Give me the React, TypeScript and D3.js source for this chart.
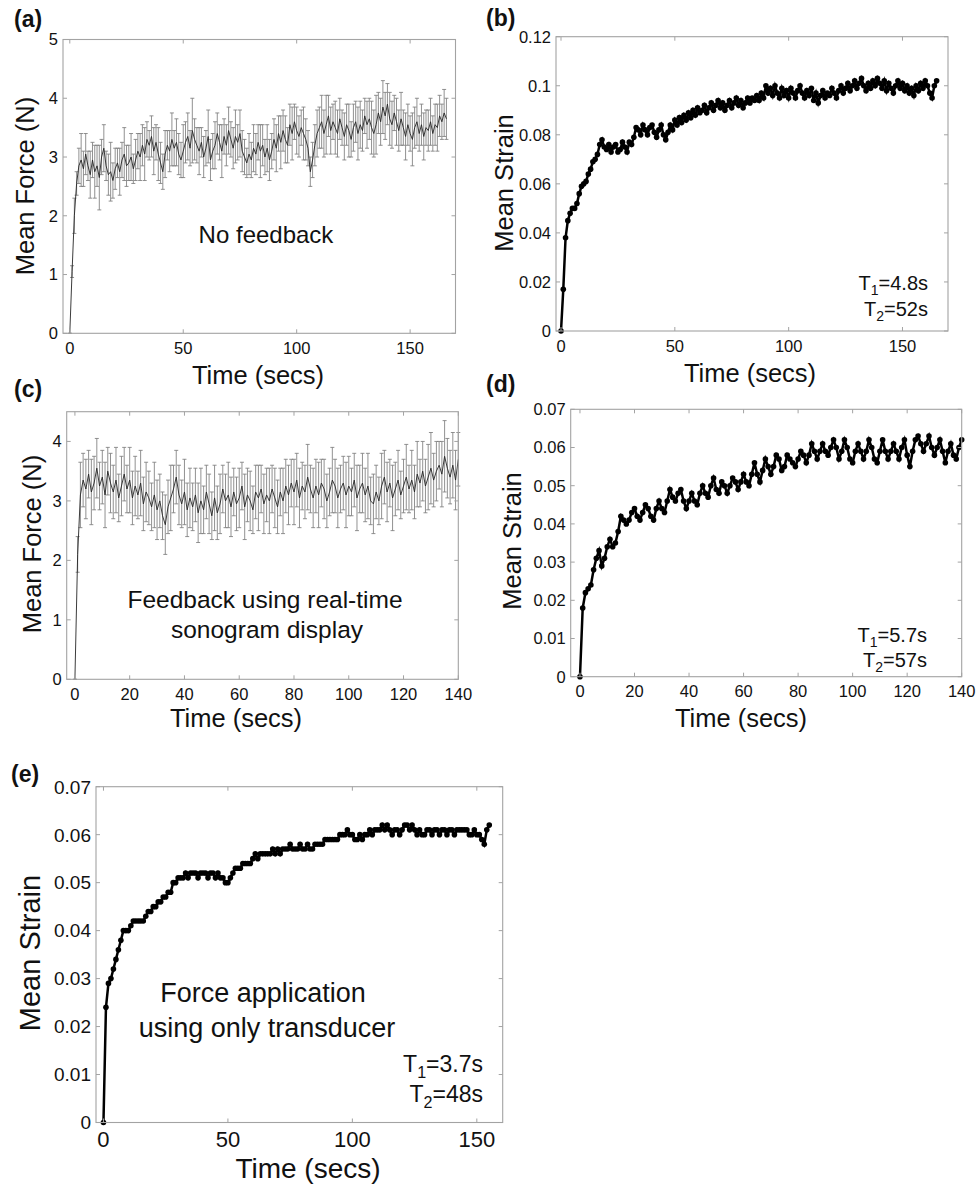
import React from "react";
import * as d3 from "d3";

const FONT = "'Liberation Sans', Arial, Helvetica, sans-serif";

// ---------- DATA ----------
// (a) No feedback: mean force (N) and error, sampled every second
const A_DT = 1;
const aForce = [
  0.00,1.05,2.00,2.55,2.85,2.95,2.80,3.05,2.85,2.70,
  2.95,2.75,2.85,2.65,3.00,3.15,2.85,2.70,2.75,2.60,
  2.80,2.90,2.75,2.95,3.05,2.85,2.90,3.00,2.80,2.95,
  3.10,3.00,3.20,3.05,3.30,3.20,3.35,3.10,3.25,3.05,
  2.90,2.75,3.05,3.20,3.10,3.30,3.15,3.25,3.05,2.95,
  3.10,3.25,3.35,3.15,3.45,3.30,3.20,3.10,3.25,3.00,
  3.15,3.35,2.95,3.10,3.20,3.40,3.25,3.10,3.35,3.20,
  3.45,3.30,3.15,3.35,3.25,3.40,3.10,3.00,2.90,3.05,
  2.95,3.15,3.05,3.25,3.10,3.20,3.00,3.15,2.95,3.10,
  3.30,3.15,3.40,3.25,3.45,3.30,3.20,3.55,3.40,3.60,
  3.45,3.35,3.50,3.40,3.30,3.15,2.75,2.95,3.20,3.40,
  3.50,3.60,3.40,3.55,3.70,3.45,3.60,3.50,3.40,3.65,
  3.50,3.35,3.55,3.45,3.30,3.50,3.60,3.40,3.55,3.45,
  3.70,3.55,3.65,3.50,3.40,3.55,3.75,3.60,3.85,3.70,
  3.90,3.65,3.55,3.75,3.60,3.45,3.65,3.50,3.35,3.55,
  3.40,3.30,3.50,3.60,3.40,3.55,3.35,3.50,3.45,3.60,
  3.40,3.55,3.50,3.70,3.60,3.75,3.65,
];
const aErr = [
  0.00,0.10,0.30,0.20,0.30,0.45,0.30,0.35,0.25,0.40,
  0.30,0.45,0.35,0.55,0.30,0.40,0.25,0.35,0.50,0.30,
  0.35,0.25,0.40,0.30,0.45,0.35,0.30,0.40,0.25,0.35,
  0.30,0.40,0.35,0.45,0.30,0.25,0.35,0.40,0.30,0.45,
  0.35,0.30,0.40,0.25,0.35,0.45,0.30,0.40,0.35,0.30,
  0.45,0.35,0.40,0.30,0.55,0.35,0.30,0.40,0.25,0.35,
  0.30,0.45,0.35,0.30,0.40,0.35,0.30,0.45,0.30,0.35,
  0.40,0.30,0.35,0.45,0.30,0.40,0.35,0.30,0.25,0.35,
  0.30,0.40,0.35,0.30,0.45,0.35,0.30,0.40,0.35,0.30,
  0.35,0.40,0.30,0.45,0.35,0.40,0.30,0.35,0.45,0.30,
  0.40,0.35,0.30,0.45,0.35,0.30,0.25,0.30,0.35,0.40,
  0.35,0.45,0.40,0.50,0.35,0.40,0.30,0.45,0.40,0.35,
  0.30,0.40,0.35,0.45,0.30,0.40,0.35,0.45,0.40,0.35,
  0.30,0.40,0.35,0.45,0.40,0.50,0.35,0.40,0.45,0.40,
  0.35,0.45,0.40,0.30,0.40,0.35,0.45,0.30,0.40,0.35,
  0.30,0.45,0.35,0.40,0.30,0.35,0.40,0.30,0.35,0.40,
  0.30,0.35,0.40,0.35,0.30,0.40,0.35,
];

// (b) No feedback: mean strain
const B_DT = 1;
const bStrain = [
  0.000,0.017,0.038,0.045,0.048,0.050,0.050,0.052,0.056,0.059,
  0.060,0.061,0.064,0.066,0.069,0.070,0.072,0.076,0.078,0.075,
  0.074,0.076,0.073,0.075,0.076,0.073,0.074,0.077,0.075,0.073,
  0.077,0.076,0.079,0.083,0.082,0.080,0.084,0.082,0.080,0.083,
  0.084,0.081,0.079,0.082,0.084,0.080,0.078,0.081,0.084,0.082,
  0.086,0.084,0.087,0.085,0.088,0.086,0.089,0.087,0.090,0.088,
  0.091,0.089,0.090,0.092,0.089,0.091,0.093,0.090,0.092,0.094,
  0.091,0.093,0.090,0.092,0.094,0.091,0.093,0.095,0.092,0.094,
  0.091,0.093,0.095,0.093,0.095,0.094,0.096,0.094,0.097,0.095,
  0.100,0.097,0.099,0.096,0.100,0.097,0.095,0.099,0.096,0.098,
  0.095,0.099,0.097,0.095,0.098,0.100,0.097,0.095,0.098,0.096,
  0.099,0.094,0.097,0.093,0.096,0.098,0.095,0.097,0.096,0.099,
  0.097,0.095,0.098,0.100,0.097,0.099,0.101,0.098,0.100,0.102,
  0.099,0.101,0.103,0.100,0.098,0.101,0.099,0.102,0.100,0.103,
  0.101,0.099,0.102,0.098,0.101,0.099,0.097,0.100,0.102,0.099,
  0.101,0.098,0.100,0.097,0.099,0.096,0.100,0.098,0.101,0.099,
  0.102,0.100,0.097,0.095,0.100,0.102,
];

// (c) Feedback using real-time sonogram display: mean force (N) and error
const C_DT = 1;
const cForce = [
  0.00,2.10,3.10,3.35,3.20,3.45,3.15,3.30,3.55,3.25,
  3.40,3.10,3.50,3.30,3.15,3.35,3.05,3.25,3.45,3.20,
  3.35,3.05,3.25,3.10,3.30,2.95,3.15,3.05,2.90,3.10,
  2.85,3.00,2.75,2.60,2.90,3.05,3.20,3.40,3.10,2.95,
  3.15,2.85,3.05,2.90,3.10,2.80,3.00,2.85,3.15,2.95,
  2.75,3.05,2.80,2.95,3.20,3.00,3.10,2.90,3.15,2.95,
  3.05,3.25,2.90,3.10,3.00,2.85,3.15,3.05,3.20,2.95,
  3.10,3.00,3.20,3.05,2.90,3.15,3.00,3.25,3.10,3.30,
  3.15,3.35,3.05,3.25,3.15,3.40,3.20,3.05,3.25,3.10,
  3.30,3.20,3.00,3.15,3.35,3.25,3.05,3.20,3.30,3.10,
  3.25,3.15,3.35,3.05,3.20,3.30,3.10,3.25,3.00,2.95,
  3.15,3.00,3.25,3.40,3.15,3.30,3.05,3.20,3.35,3.10,
  3.25,3.40,3.20,3.35,3.15,3.45,3.30,3.50,3.25,3.40,
  3.55,3.35,3.50,3.60,3.45,3.75,3.55,3.40,3.60,3.35,
  3.70,
];
const cErr = [
  0.00,0.30,0.55,0.45,0.50,0.40,0.55,0.45,0.50,0.40,
  0.45,0.55,0.40,0.50,0.45,0.55,0.40,0.50,0.45,0.40,
  0.55,0.45,0.50,0.40,0.55,0.45,0.50,0.45,0.40,0.55,
  0.50,0.45,0.40,0.50,0.45,0.55,0.40,0.45,0.50,0.40,
  0.55,0.45,0.50,0.40,0.45,0.50,0.55,0.40,0.45,0.50,
  0.40,0.55,0.45,0.50,0.40,0.45,0.55,0.50,0.40,0.45,
  0.50,0.40,0.55,0.45,0.50,0.40,0.45,0.55,0.40,0.50,
  0.45,0.55,0.40,0.50,0.45,0.40,0.55,0.45,0.50,0.40,
  0.55,0.45,0.50,0.40,0.45,0.55,0.40,0.50,0.45,0.55,
  0.40,0.50,0.45,0.40,0.55,0.45,0.50,0.40,0.45,0.55,
  0.50,0.40,0.45,0.55,0.40,0.50,0.45,0.55,0.40,0.50,
  0.45,0.40,0.55,0.45,0.50,0.40,0.55,0.45,0.50,0.40,
  0.45,0.55,0.40,0.50,0.45,0.55,0.40,0.50,0.45,0.55,
  0.60,0.45,0.50,0.40,0.55,0.60,0.50,0.45,0.55,0.50,
  0.45,
];

// (d) Feedback: mean strain
const D_DT = 1;
const dStrain = [
  0.000,0.018,0.022,0.023,0.024,0.028,0.031,0.033,0.029,0.031,
  0.034,0.036,0.034,0.035,0.038,0.042,0.041,0.040,0.041,0.043,
  0.044,0.042,0.041,0.043,0.045,0.044,0.042,0.041,0.044,0.046,
  0.044,0.043,0.046,0.049,0.047,0.046,0.048,0.049,0.046,0.044,
  0.046,0.048,0.046,0.045,0.048,0.050,0.048,0.047,0.050,0.052,
  0.049,0.048,0.051,0.050,0.048,0.050,0.052,0.051,0.049,0.051,
  0.053,0.051,0.050,0.053,0.056,0.053,0.051,0.054,0.057,0.055,
  0.053,0.055,0.058,0.057,0.054,0.055,0.058,0.057,0.056,0.055,
  0.057,0.059,0.058,0.056,0.058,0.061,0.059,0.057,0.059,0.061,
  0.059,0.058,0.060,0.062,0.060,0.057,0.059,0.062,0.060,0.057,
  0.056,0.059,0.061,0.059,0.057,0.059,0.062,0.060,0.057,0.056,
  0.059,0.062,0.059,0.057,0.059,0.061,0.059,0.057,0.060,0.062,
  0.058,0.055,0.059,0.062,0.063,0.061,0.059,0.061,0.063,0.060,
  0.058,0.060,0.062,0.059,0.056,0.059,0.061,0.058,0.057,0.060,
  0.062,
];

// (e) Force application using only transducer: mean strain
const E_DT = 1;
const eStrain = [
  0.000,0.024,0.029,0.030,0.032,0.034,0.036,0.038,0.040,0.040,
  0.040,0.041,0.042,0.042,0.042,0.042,0.042,0.043,0.044,0.044,
  0.045,0.045,0.046,0.046,0.047,0.047,0.048,0.048,0.050,0.050,
  0.051,0.051,0.051,0.052,0.051,0.052,0.052,0.052,0.051,0.052,
  0.052,0.052,0.051,0.052,0.052,0.051,0.052,0.051,0.051,0.050,
  0.050,0.051,0.052,0.053,0.053,0.053,0.054,0.054,0.054,0.054,
  0.055,0.056,0.055,0.056,0.056,0.056,0.056,0.056,0.057,0.056,
  0.057,0.056,0.057,0.057,0.057,0.058,0.057,0.057,0.057,0.058,
  0.057,0.057,0.058,0.057,0.057,0.058,0.058,0.058,0.058,0.059,
  0.059,0.059,0.059,0.059,0.059,0.060,0.060,0.060,0.061,0.060,
  0.060,0.059,0.059,0.060,0.059,0.060,0.060,0.061,0.060,0.061,
  0.061,0.061,0.062,0.061,0.062,0.061,0.060,0.061,0.061,0.060,
  0.061,0.062,0.062,0.061,0.062,0.061,0.060,0.061,0.060,0.060,
  0.061,0.061,0.060,0.061,0.061,0.060,0.061,0.061,0.060,0.061,
  0.061,0.060,0.061,0.061,0.061,0.061,0.061,0.060,0.060,0.061,
  0.060,0.060,0.059,0.058,0.061,0.062,
];

// Tick values
const ticksX170 = [0, 50, 100, 150];
const ticksX140 = [0, 20, 40, 60, 80, 100, 120, 140];
const ticksForceA = [0, 1, 2, 3, 4, 5];
const ticksForceC = [0, 1, 2, 3, 4];
const ticksStrainB = [0, 0.02, 0.04, 0.06, 0.08, 0.1, 0.12];
const ticksStrain07 = [0, 0.01, 0.02, 0.03, 0.04, 0.05, 0.06, 0.07];

// ---------- LAYOUT ----------
type Spec = {
  box: [number, number, number, number];
  xDomain: [number, number];
  yDomain: [number, number];
  xTicks: number[];
  yTicks: number[];
  xTickFont: number;
  yTickFont: number;
  xTickBase: number;
  xTitleX: number;
  xTitleY: number;
  xTitleFont: number;
  yTitle: string;
  yTitleX: number;
  yTitleY: number;
  yTitleFont: number;
  tag: string;
  tagX: number;
  tagY: number;
};

const fmt = (v: number) => String(+v.toFixed(3));
const AX = "#a3a3a3";

function Frame({ s, children }: { s: Spec; children: (x: any, y: any) => React.ReactNode }) {
  const [l, t, r, b] = s.box;
  const x = d3.scaleLinear().domain(s.xDomain).range([l, r]);
  const y = d3.scaleLinear().domain(s.yDomain).range([b, t]);
  const TL = 4;
  return (
    <g>
      {children(x, y)}
      <rect x={l} y={t} width={r - l} height={b - t} fill="none" stroke={AX} strokeWidth={1.1} />
      {s.xTicks.map((v) => (
        <g key={"xt" + v}>
          <line x1={x(v)} x2={x(v)} y1={b} y2={b - TL} stroke={AX} strokeWidth={1} />
          <line x1={x(v)} x2={x(v)} y1={t} y2={t + TL} stroke={AX} strokeWidth={1} />
          <text x={x(v)} y={b + s.xTickBase} textAnchor="middle" fontSize={s.xTickFont} fill="#111" fontFamily={FONT}>
            {fmt(v)}
          </text>
        </g>
      ))}
      {s.yTicks.map((v) => (
        <g key={"yt" + v}>
          <line x1={l} x2={l + TL} y1={y(v)} y2={y(v)} stroke={AX} strokeWidth={1} />
          <line x1={r} x2={r - TL} y1={y(v)} y2={y(v)} stroke={AX} strokeWidth={1} />
          <text x={l - 5} y={y(v)} dy="0.36em" textAnchor="end" fontSize={s.yTickFont} fill="#111" fontFamily={FONT}>
            {fmt(v)}
          </text>
        </g>
      ))}
      <text x={s.xTitleX} y={s.xTitleY} textAnchor="middle" fontSize={s.xTitleFont} fill="#111" fontFamily={FONT}>
        Time (secs)
      </text>
      <text
        transform={`translate(${s.yTitleX},${s.yTitleY}) rotate(-90)`}
        textAnchor="middle"
        fontSize={s.yTitleFont}
        fill="#111"
        fontFamily={FONT}
      >
        {s.yTitle}
      </text>
      <text x={s.tagX} y={s.tagY} fontSize={23} fontWeight="bold" fill="#111" fontFamily={FONT}>
        {s.tag}
      </text>
    </g>
  );
}

function ForceSeries({ x, y, vals, errs, dt }: any) {
  const pts = vals.map((v: number, i: number) => ({ t: i * dt, v, e: errs[i] }));
  const line = d3.line<any>().x((d) => x(d.t)).y((d) => y(d.v));
  return (
    <g>
      {pts.map((d: any, i: number) => {
        const cx = x(d.t);
        const y1 = y(d.v - d.e);
        const y2 = y(d.v + d.e);
        return (
          <g key={i} stroke="#7d7d7d" strokeWidth={0.85}>
            <line x1={cx} x2={cx} y1={y1} y2={y2} />
            <line x1={cx - 2} x2={cx + 2} y1={y1} y2={y1} />
            <line x1={cx - 2} x2={cx + 2} y1={y2} y2={y2} />
          </g>
        );
      })}
      <path d={line(pts) || ""} fill="none" stroke="#262626" strokeWidth={0.9} />
    </g>
  );
}

function StrainSeries({ x, y, vals, dt }: any) {
  const pts = vals.map((v: number, i: number) => ({ t: i * dt, v }));
  const line = d3.line<any>().x((d) => x(d.t)).y((d) => y(d.v));
  return (
    <g>
      <path d={line(pts) || ""} fill="none" stroke="#000" strokeWidth={2.5} />
      {pts.map((d: any, i: number) => (
        <circle key={i} cx={x(d.t)} cy={y(d.v)} r={2.8} fill="#000" />
      ))}
    </g>
  );
}

function TLabel({ x, y, sub, rest, size }: any) {
  return (
    <text x={x} y={y} textAnchor="end" fontSize={size} fill="#111" fontFamily={FONT}>
      T
      <tspan dy={size * 0.25} fontSize={size * 0.7}>{sub}</tspan>
      <tspan dy={-size * 0.25}>{rest}</tspan>
    </text>
  );
}

const specA: Spec = {
  box: [63, 39.5, 455.5, 333.3], xDomain: [-3, 170], yDomain: [0, 5],
  xTicks: ticksX170, yTicks: ticksForceA, xTickFont: 16.5, yTickFont: 16.5, xTickBase: 21,
  xTitleX: 258, xTitleY: 384, xTitleFont: 25.5,
  yTitle: "Mean Force (N)", yTitleX: 34, yTitleY: 186, yTitleFont: 25.5,
  tag: "(a)", tagX: 14, tagY: 27,
};
const specB: Spec = {
  box: [556, 36.7, 948, 331], xDomain: [-2.2, 170], yDomain: [0, 0.12],
  xTicks: ticksX170, yTicks: ticksStrainB, xTickFont: 16.5, yTickFont: 16.5, xTickBase: 20.7,
  xTitleX: 750, xTitleY: 381.5, xTitleFont: 25.5,
  yTitle: "Mean Strain", yTitleX: 513, yTitleY: 183, yTitleFont: 25.5,
  tag: "(b)", tagX: 486, tagY: 25.5,
};
const specC: Spec = {
  box: [66.7, 411.7, 458.3, 679.3], xDomain: [-3, 140], yDomain: [0, 4.5],
  xTicks: ticksX140, yTicks: ticksForceC, xTickFont: 16.5, yTickFont: 16.5, xTickBase: 20.7,
  xTitleX: 236, xTitleY: 727, xTitleFont: 25.5,
  yTitle: "Mean Force (N)", yTitleX: 41, yTitleY: 544, yTitleFont: 25.5,
  tag: "(c)", tagX: 14, tagY: 397,
};
const specD: Spec = {
  box: [570.7, 409.3, 961.7, 676.7], xDomain: [-3.4, 140], yDomain: [0, 0.07],
  xTicks: ticksX140, yTicks: ticksStrain07, xTickFont: 16.5, yTickFont: 16.5, xTickBase: 20.3,
  xTitleX: 741, xTitleY: 727, xTitleFont: 25.5,
  yTitle: "Mean Strain", yTitleX: 521, yTitleY: 541, yTitleFont: 25.5,
  tag: "(d)", tagX: 486, tagY: 392,
};
const specE: Spec = {
  box: [96, 786.7, 502.7, 1122.5], xDomain: [-3, 160.4], yDomain: [0, 0.07],
  xTicks: ticksX170, yTicks: ticksStrain07, xTickFont: 22, yTickFont: 19, xTickBase: 24.5,
  xTitleX: 308, xTitleY: 1178, xTitleFont: 28,
  yTitle: "Mean Strain", yTitleX: 40, yTitleY: 953, yTitleFont: 29,
  tag: "(e)", tagX: 11, tagY: 782,
};

export default function App() {
  return (
    <svg
      width={980}
      height={1190}
      viewBox="0 0 980 1190"
      style={{ position: "absolute", left: 0, top: 0, background: "#fff" }}
    >
      <rect x={0} y={0} width={980} height={1190} fill="#fff" />
      <Frame s={specA}>
        {(x, y) => <ForceSeries x={x} y={y} vals={aForce} errs={aErr} dt={A_DT} />}
      </Frame>
      <text x={266} y={243} textAnchor="middle" fontSize={24} fill="#111" fontFamily={FONT}>No feedback</text>

      <Frame s={specB}>
        {(x, y) => <StrainSeries x={x} y={y} vals={bStrain} dt={B_DT} />}
      </Frame>
      <TLabel x={928} y={290} sub="1" rest="=4.8s" size={20} />
      <TLabel x={928} y={316} sub="2" rest="=52s" size={20} />

      <Frame s={specC}>
        {(x, y) => <ForceSeries x={x} y={y} vals={cForce} errs={cErr} dt={C_DT} />}
      </Frame>
      <text x={265} y={608} textAnchor="middle" fontSize={24.5} fill="#111" fontFamily={FONT}>Feedback using real-time</text>
      <text x={267} y={638} textAnchor="middle" fontSize={24.5} fill="#111" fontFamily={FONT}>sonogram display</text>

      <Frame s={specD}>
        {(x, y) => <StrainSeries x={x} y={y} vals={dStrain} dt={D_DT} />}
      </Frame>
      <TLabel x={927} y={642} sub="1" rest="=5.7s" size={20} />
      <TLabel x={927} y={667} sub="2" rest="=57s" size={20} />

      <Frame s={specE}>
        {(x, y) => <StrainSeries x={x} y={y} vals={eStrain} dt={E_DT} />}
      </Frame>
      <text x={263} y={1002} textAnchor="middle" fontSize={27} fill="#111" fontFamily={FONT}>Force application</text>
      <text x={267} y={1037} textAnchor="middle" fontSize={27} fill="#111" fontFamily={FONT}>using only transducer</text>
      <TLabel x={483} y={1072} sub="1" rest="=3.7s" size={23} />
      <TLabel x={483} y={1102} sub="2" rest="=48s" size={23} />
    </svg>
  );
}
